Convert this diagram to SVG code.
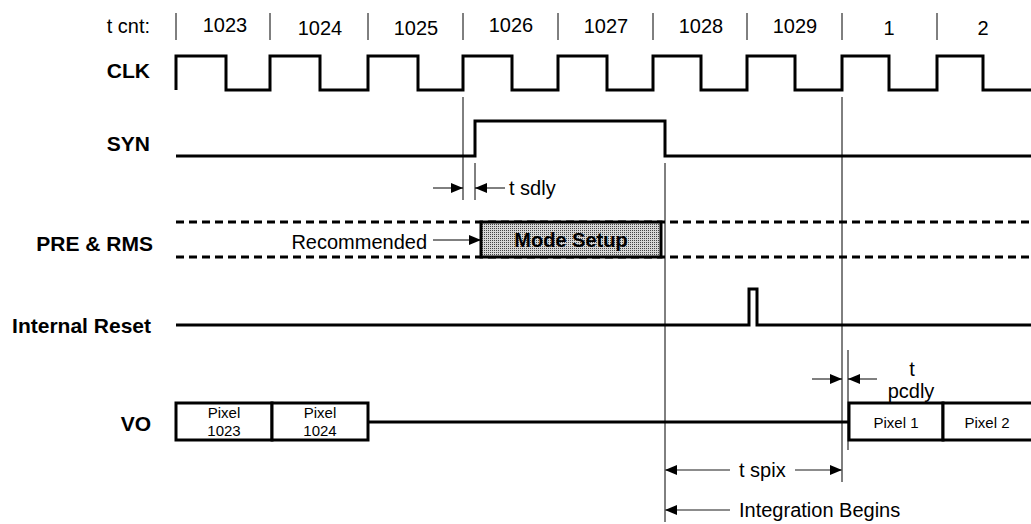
<svg xmlns="http://www.w3.org/2000/svg" width="1031" height="524" viewBox="0 0 1031 524">
<defs>
<style>
.lbl{font-family:"Liberation Sans",Arial,sans-serif;font-size:21px;font-weight:bold;fill:#000;text-anchor:end}
.txt{font-family:"Liberation Sans",Arial,sans-serif;font-size:20px;fill:#000}
.mid{text-anchor:middle}
.pix{font-family:"Liberation Sans",Arial,sans-serif;font-size:15px;fill:#000;text-anchor:middle}
.sig{fill:none;stroke:#000;stroke-width:3;stroke-linejoin:miter}
.box{fill:#fff;stroke:#000;stroke-width:3}
.thin{stroke:#000;stroke-width:1;fill:none}
.arr{stroke:#000;stroke-width:1;fill:none;marker-end:url(#ah)}
.garr{stroke:#666;stroke-width:1.5;fill:none;marker-end:url(#ah)}
.dash{stroke:#000;stroke-width:3;stroke-dasharray:8 5;fill:none}
</style>
<marker id="ah" viewBox="0 0 12 10" refX="12" refY="5" markerWidth="12" markerHeight="10" markerUnits="userSpaceOnUse" orient="auto"><path d="M0,0L12,5L0,10z" fill="#000"/></marker>
<pattern id="dots" width="2" height="2" patternUnits="userSpaceOnUse"><rect width="2" height="2" fill="#d6d6d6"/><rect width="1" height="1" fill="#444"/></pattern>
</defs>
<rect width="1031" height="524" fill="#fff"/>

<g id="header">
<text class="txt" x="150" y="33" text-anchor="end">t cnt:</text>
<g class="thin">
<line x1="176" y1="13" x2="176" y2="40"/><line x1="270" y1="13" x2="270" y2="40"/><line x1="368" y1="13" x2="368" y2="40"/><line x1="463" y1="13" x2="463" y2="40"/><line x1="558" y1="13" x2="558" y2="40"/><line x1="653" y1="13" x2="653" y2="40"/><line x1="747" y1="13" x2="747" y2="40"/><line x1="842" y1="13" x2="842" y2="40"/><line x1="937" y1="13" x2="937" y2="40"/>
</g>
<text class="txt mid" x="225" y="32">1023</text>
<text class="txt mid" x="320" y="35">1024</text>
<text class="txt mid" x="416" y="35">1025</text>
<text class="txt mid" x="511" y="32">1026</text>
<text class="txt mid" x="606" y="33">1027</text>
<text class="txt mid" x="701" y="33">1028</text>
<text class="txt mid" x="795" y="33">1029</text>
<text class="txt mid" x="889" y="35">1</text>
<text class="txt mid" x="983" y="35">2</text>
</g>

<g id="clk">
<text class="lbl" x="150" y="78">CLK</text>
<path class="sig" d="M176,90V56H226V90H270V56H320V90H368V56H418V90H463V56H512V90H558V56H607V90H653V56H701V90H747V56H795V90H842V56H889V90H937V56H983V90H1031"/>
</g>

<g id="syn">
<text class="lbl" x="150" y="151">SYN</text>
<path class="sig" d="M176,156H475V121H665V156H1031"/>
</g>

<g id="pre-rms">
<text class="lbl" x="153" y="251">PRE &amp; RMS</text>
<line class="dash" x1="176" y1="222" x2="1031" y2="222"/>
<line class="dash" x1="176" y1="257" x2="1031" y2="257"/>
</g>

<g id="mode-setup">
<rect x="481" y="222" width="180" height="35" fill="url(#dots)" stroke="#000" stroke-width="3"/>
<text class="txt mid" x="571" y="247" font-weight="bold" font-size="21">Mode Setup</text>
</g>

<g id="internal-reset">
<text class="lbl" x="151" y="333">Internal Reset</text>
<path class="sig" d="M176,325H749V289H757V325H1031"/>
</g>

<g id="vo">
<text class="lbl" x="151" y="431">VO</text>
<path class="sig" d="M368,422H849"/>
<rect class="box" x="176" y="403" width="96" height="37"/>
<rect class="box" x="272" y="403" width="96" height="37"/>
<rect class="box" x="849" y="403" width="94" height="37"/>
<rect class="box" x="943" y="403" width="92" height="37"/>
<text class="pix" x="224" y="418">Pixel</text>
<text class="pix" x="224" y="436">1023</text>
<text class="pix" x="320" y="418">Pixel</text>
<text class="pix" x="320" y="436">1024</text>
<text class="pix" x="896" y="428">Pixel 1</text>
<text class="pix" x="987" y="428">Pixel 2</text>
</g>

<g id="connectors">
<line class="thin" x1="463" y1="97" x2="463" y2="200"/>
<line class="thin" x1="475" y1="163" x2="475" y2="200"/>
<line class="thin" x1="665" y1="163" x2="665" y2="522"/>
<line class="thin" x1="842" y1="97" x2="842" y2="482"/>
<line class="thin" x1="848" y1="350" x2="848" y2="450"/>
<line class="arr" x1="433" y1="188" x2="463" y2="188"/>
<line class="arr" x1="505" y1="188" x2="475" y2="188"/>
<line class="arr" x1="433" y1="240" x2="481" y2="240"/>
<line class="arr" x1="812" y1="379" x2="842" y2="379"/>
<line class="arr" x1="877" y1="379" x2="848" y2="379"/>
<line class="garr" x1="730" y1="470" x2="665" y2="470"/>
<line class="garr" x1="795" y1="470" x2="842" y2="470"/>
<line class="garr" x1="730" y1="510" x2="665" y2="510"/>
</g>

<g id="annotations">
<text class="txt" x="509" y="195">t sdly</text>
<text class="txt" x="427" y="249" text-anchor="end">Recommended</text>
<text class="txt mid" x="912" y="376">t</text>
<text class="txt mid" x="911" y="398">pcdly</text>
<text class="txt" x="739" y="477">t spix</text>
<text class="txt" x="739" y="517">Integration Begins</text>
</g>
</svg>
